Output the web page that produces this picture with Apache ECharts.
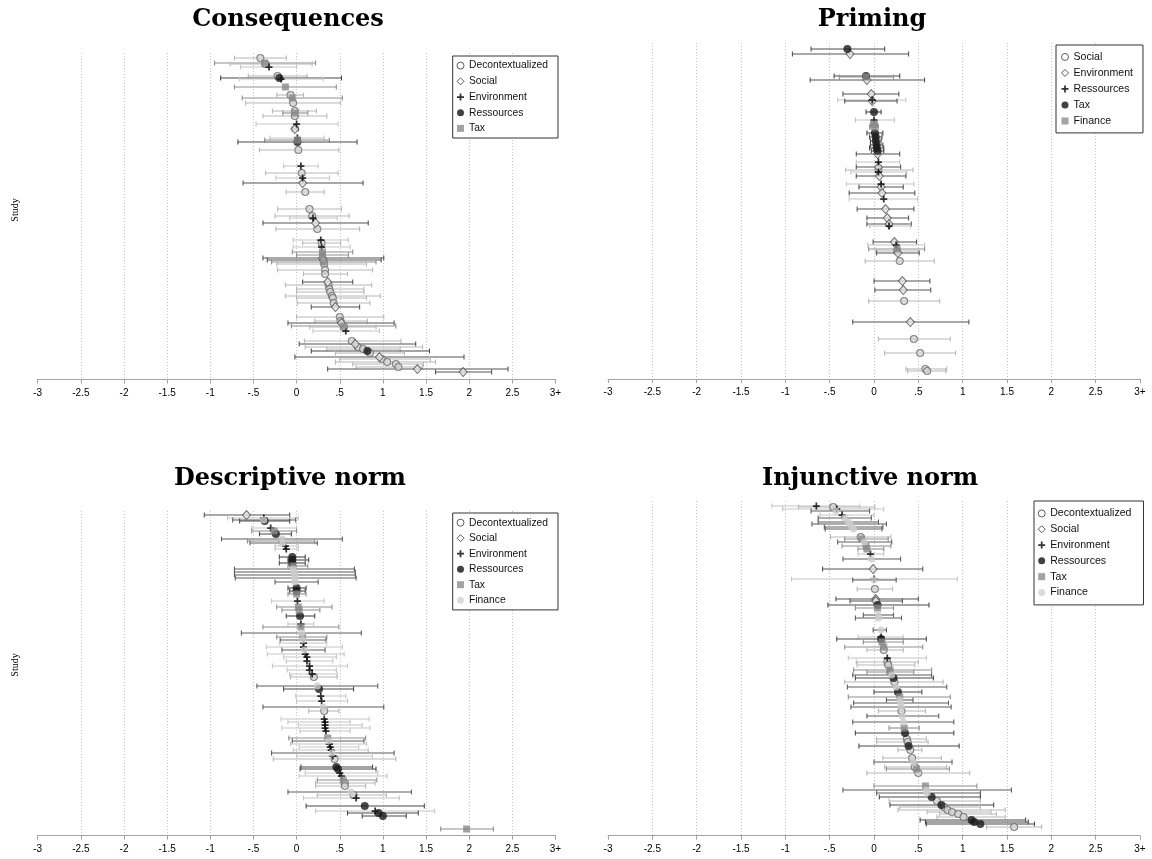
<!DOCTYPE html>
<html><head><meta charset="utf-8">
<script src="https://cdn.jsdelivr.net/npm/echarts@6/dist/echarts.min.js"></script>
<style>html,body{margin:0;padding:0;background:#fff}#c{width:1152px;height:859px}</style>
</head><body><div id="c"></div>
<script>
const xTicks = ['-3','-2.5','-2','-1.5','-1','-.5','0','.5','1','1.5','2','2.5','3+'];
const namesCons = ['Decontextualized','Social','Environment','Ressources','Tax'];
const namesPrim = ['Social','Environment','Ressources','Tax','Finance'];
const namesNorm = ['Decontextualized','Social','Environment','Ressources','Tax','Finance'];

// Consequences
const consPos = [58,63,64,67,76,78,79,87,95,98,103,111,113,116,124,129,138,140,142,150,166,173,178,183,192,209,216,218,223,229,240,243,247,252,255,258,260,262,264,270,274,282,285,289,292,296,298,303,307,317,321,323,326,327,331,341,344,347,349,351,353,357,359,362,364,367,369,372];
const consEst = [-0.42,-0.37,-0.36,-0.32,-0.22,-0.20,-0.18,-0.13,-0.07,-0.05,-0.04,-0.02,-0.02,-0.02,0.00,-0.02,0.01,0.01,0.01,0.02,0.05,0.06,0.07,0.07,0.10,0.15,0.18,0.19,0.22,0.24,0.28,0.29,0.29,0.30,0.30,0.30,0.31,0.31,0.32,0.33,0.33,0.36,0.37,0.38,0.39,0.41,0.42,0.43,0.45,0.50,0.51,0.52,0.54,0.55,0.57,0.64,0.68,0.71,0.77,0.82,0.85,0.96,0.99,1.05,1.15,1.18,1.40,1.93];
const consLo = [-0.72,-0.95,-0.77,-0.65,-0.56,-0.88,-0.66,-0.72,-0.23,-0.63,-0.59,-0.28,-0.16,-0.39,-0.47,-0.05,-0.31,-0.37,-0.68,-0.43,-0.15,-0.36,-0.24,-0.62,-0.12,-0.22,-0.25,-0.08,-0.39,-0.24,-0.04,0.07,-0.04,-0.05,0.00,-0.39,-0.34,-0.29,-0.23,-0.22,0.08,0.07,-0.13,0.00,0.00,-0.13,0.00,0.01,0.17,0.00,0.21,-0.10,-0.06,0.15,0.19,0.09,0.03,0.10,0.35,0.17,0.45,-0.02,0.50,0.45,0.65,0.69,0.36,1.61];
const consHi = [-0.12,0.22,0.18,0.00,0.12,0.52,0.31,0.46,0.08,0.53,0.51,0.23,0.13,0.35,0.48,0.02,0.32,0.38,0.70,0.49,0.25,0.48,0.38,0.77,0.32,0.52,0.61,0.47,0.83,0.73,0.60,0.51,0.62,0.65,0.60,1.01,0.98,0.92,0.81,0.88,0.59,0.65,0.87,0.78,0.78,0.97,0.81,0.85,0.73,1.01,0.82,1.13,1.15,0.92,0.96,1.21,1.38,1.46,1.20,1.54,1.25,1.94,1.55,1.61,1.47,1.46,2.45,2.26];
const consGrp = [0,4,0,2,0,3,2,4,0,4,0,0,4,0,2,1,2,4,3,0,2,0,2,1,0,0,0,2,1,0,2,0,2,4,4,1,1,4,0,0,0,1,0,0,0,0,0,0,1,0,0,1,4,0,2,0,1,0,0,3,0,1,0,0,0,0,1,1];

// Priming
const primPos = [49,54,76,77,80,94,100,101,112,120,124,127,133,137,141,145,148,151,154,162,167,170,172,176,184,187,193,199,209,218,224,226,242,245,249,251,253,261,281,290,301,322,339,353,369,371];
const primEst = [-0.30,-0.27,-0.09,-0.09,-0.08,-0.03,-0.02,-0.02,0.00,0.00,0.00,0.00,0.01,0.02,0.02,0.03,0.03,0.04,0.04,0.05,0.05,0.05,0.05,0.06,0.08,0.08,0.09,0.11,0.13,0.15,0.17,0.17,0.23,0.25,0.26,0.26,0.27,0.29,0.32,0.33,0.34,0.41,0.45,0.52,0.58,0.60];
const primLo = [-0.71,-0.92,-0.45,-0.39,-0.72,-0.35,-0.41,-0.33,-0.09,-0.21,-0.04,-0.05,-0.08,-0.05,-0.04,-0.04,-0.05,-0.03,-0.20,-0.20,-0.20,-0.32,-0.26,-0.20,-0.31,-0.17,-0.28,-0.28,-0.19,-0.08,-0.08,-0.05,-0.01,-0.07,-0.06,0.02,0.03,-0.10,0.00,0.01,-0.06,-0.24,0.05,0.12,0.36,0.38];
const primHi = [0.12,0.39,0.29,0.22,0.57,0.28,0.36,0.26,0.08,0.23,0.04,0.05,0.10,0.09,0.08,0.10,0.11,0.11,0.29,0.29,0.30,0.44,0.37,0.36,0.45,0.33,0.46,0.49,0.45,0.39,0.42,0.41,0.48,0.57,0.57,0.50,0.51,0.68,0.63,0.64,0.74,1.07,0.86,0.92,0.82,0.81];
const primGrp = [3,1,3,4,1,1,2,1,3,2,4,4,3,3,3,3,3,3,1,2,1,0,2,1,2,1,1,2,1,1,1,2,1,2,4,0,1,0,1,1,0,1,0,0,0,0];

// Descriptive norm
const descPos = [515,518,520,521,528,531,534,539,541,543,546,549,557,560,563,566,569,572,575,578,582,588,591,594,601,607,610,616,624,627,633,637,640,643,647,650,654,657,661,666,670,674,677,686,689,696,701,707,711,719,722,725,728,731,738,741,744,747,750,753,756,759,767,769,773,776,780,783,786,792,795,798,806,811,813,816,829];
const descEst = [-0.58,-0.38,-0.38,-0.37,-0.30,-0.26,-0.24,-0.17,-0.17,-0.16,-0.13,-0.12,-0.05,-0.05,-0.05,-0.04,-0.04,-0.03,-0.02,-0.02,-0.02,0.00,0.00,0.00,0.01,0.02,0.03,0.04,0.05,0.05,0.06,0.07,0.07,0.08,0.08,0.09,0.10,0.12,0.12,0.15,0.15,0.18,0.20,0.24,0.26,0.28,0.29,0.31,0.32,0.32,0.33,0.33,0.33,0.34,0.36,0.37,0.38,0.39,0.40,0.41,0.42,0.44,0.46,0.48,0.50,0.52,0.54,0.56,0.56,0.63,0.66,0.69,0.79,0.91,0.95,1.00,1.97];
const descLo = [-1.07,-0.80,-0.74,-0.66,-0.52,-0.52,-0.43,-0.87,-0.57,-0.54,-0.25,-0.25,-0.20,-0.10,-0.20,-0.10,-0.72,-0.72,-0.72,-0.71,-0.25,-0.10,-0.08,-0.10,-0.29,-0.23,-0.17,-0.12,-0.10,-0.39,-0.64,-0.23,-0.19,-0.20,-0.35,-0.17,-0.34,-0.15,-0.12,-0.28,-0.11,-0.08,-0.07,-0.46,-0.15,-0.01,0.00,-0.39,0.14,-0.18,-0.10,0.02,-0.17,0.04,-0.09,-0.05,-0.07,0.03,-0.04,-0.29,0.00,-0.27,0.05,0.04,0.10,0.03,0.24,0.22,0.22,-0.10,0.24,0.08,0.11,0.22,0.59,0.76,1.67];
const descHi = [-0.08,0.02,-0.01,-0.08,0.00,0.00,-0.06,0.53,0.21,0.24,0.02,0.02,0.10,0.14,0.10,0.13,0.67,0.68,0.68,0.69,0.25,0.11,0.10,0.11,0.32,0.41,0.27,0.21,0.20,0.49,0.75,0.35,0.34,0.35,0.53,0.33,0.55,0.46,0.42,0.59,0.46,0.47,0.47,0.94,0.66,0.57,0.59,1.01,0.49,0.84,0.62,0.76,0.85,0.62,0.80,0.78,0.81,0.72,0.83,1.13,0.88,1.15,0.88,0.92,0.94,1.05,0.93,0.91,0.80,1.33,1.04,1.19,1.48,1.60,1.41,1.27,2.28];
const descGrp = [1,2,5,3,2,4,3,5,4,5,2,2,3,3,3,4,5,5,5,5,5,3,3,4,2,4,4,3,2,4,5,4,5,2,2,5,2,2,2,2,2,2,0,5,3,2,2,5,0,2,2,2,2,2,4,5,2,2,2,5,2,0,3,3,2,2,4,0,0,5,0,2,3,2,3,3,4];

// Injunctive norm
const injPos = [506,507,509,511,515,518,522,524,527,529,537,539,542,546,549,554,559,569,579,580,589,599,601,605,608,615,618,630,637,639,642,647,650,658,662,665,670,672,675,678,682,687,692,697,700,703,707,711,716,722,728,733,739,742,746,750,758,762,767,769,773,786,790,793,797,801,805,807,810,812,814,817,820,822,824,827];
const injEst = [-0.65,-0.46,-0.42,-0.43,-0.36,-0.33,-0.29,-0.27,-0.25,-0.23,-0.15,-0.14,-0.11,-0.09,-0.08,-0.04,-0.03,-0.01,0.00,0.00,0.01,0.02,0.02,0.04,0.04,0.05,0.05,0.08,0.08,0.08,0.09,0.11,0.11,0.15,0.15,0.16,0.18,0.18,0.20,0.22,0.23,0.25,0.27,0.29,0.29,0.30,0.31,0.31,0.32,0.33,0.34,0.35,0.37,0.38,0.39,0.41,0.43,0.44,0.46,0.48,0.50,0.58,0.59,0.60,0.65,0.71,0.76,0.79,0.83,0.88,0.95,1.01,1.10,1.13,1.20,1.58];
const injLo = [-1.15,-0.85,-1.03,-0.71,-0.61,-0.63,-0.63,-0.70,-0.56,-0.55,-0.49,-0.33,-0.41,-0.36,-0.18,-0.18,-0.35,-0.58,-0.93,-0.24,-0.19,-0.43,-0.27,-0.52,-0.21,-0.12,-0.21,-0.01,-0.18,-0.42,-0.12,-0.33,-0.08,-0.29,-0.20,-0.19,-0.23,-0.08,-0.24,-0.21,-0.33,-0.30,0.00,-0.29,0.14,-0.23,-0.26,0.05,-0.08,-0.24,0.17,-0.21,0.03,0.03,-0.17,0.27,0.10,0.00,0.12,0.14,-0.08,0.00,-0.35,0.03,0.06,0.17,0.18,0.29,0.27,0.60,0.74,0.71,0.52,0.58,0.59,1.27];
const injHi = [-0.16,0.01,0.11,-0.05,0.00,-0.03,0.05,0.14,0.10,0.09,0.19,0.16,0.20,0.19,0.11,0.11,0.30,0.55,0.94,0.25,0.21,0.50,0.32,0.62,0.22,0.22,0.31,0.14,0.33,0.59,0.33,0.55,0.33,0.59,0.50,0.46,0.65,0.45,0.65,0.67,0.78,0.82,0.54,0.86,0.44,0.84,0.87,0.58,0.73,0.90,0.51,0.90,0.59,0.61,0.96,0.54,0.76,0.88,0.82,0.85,1.08,1.16,1.55,1.20,1.20,1.20,1.35,1.20,1.48,1.32,1.38,1.48,1.71,1.74,1.81,1.89];
const injGrp = [2,0,2,5,2,5,5,5,5,5,0,4,5,4,4,2,5,1,2,5,0,1,1,3,4,5,5,5,2,3,4,4,0,2,0,0,4,4,5,3,0,5,3,4,5,5,5,0,5,5,4,3,0,0,3,0,0,5,0,4,0,4,5,5,3,0,3,0,0,0,0,0,3,3,3,0];

// ---- styles ----
const PLUS = 'path://M3,0H5V3H8V5H5V8H3V5H0V3H3Z';
const barColors = ['#b8b8b8','#555555','#c6c6c6','#4a4a4a','#8f8f8f','#5e5e5e'];
const markStyles = [
  {symbol:'circle', size:7, itemStyle:{color:'#d4d4d4', borderColor:'#6e6e6e', borderWidth:1.1}},
  {symbol:'diamond', size:[8,9], itemStyle:{color:'#e2e2e2', borderColor:'#4e4e4e', borderWidth:1}},
  {symbol:PLUS, size:7, itemStyle:{color:'#000'}},
  {symbol:'circle', size:8, itemStyle:{color:'#1a1a1a'}},
  {symbol:'rect', size:7, itemStyle:{color:'#8a8a8a'}},
  {symbol:'circle', size:7, itemStyle:{color:'#cdcdcd'}}
];
const legendIcons = [
  {icon:'circle', itemStyle:{color:'#fff', borderColor:'#333', borderWidth:1}},
  {icon:'diamond', itemStyle:{color:'#fff', borderColor:'#333', borderWidth:1}},
  {icon:PLUS, itemStyle:{color:'#000', borderWidth:0}},
  {icon:'circle', itemStyle:{color:'#111', borderWidth:0}},
  {icon:'rect', itemStyle:{color:'#8c8c8c', borderWidth:0}},
  {icon:'circle', itemStyle:{color:'#d2d2d2', borderWidth:0}}
];

const panels = [
  {key:'a', title:'Consequences', names:namesCons, pos:consPos, est:consEst, lo:consLo, hi:consHi, grp:consGrp,
   grid:{left:37.7, width:517.8, top:53, height:326.5}, titleX:288, titleY:20, study:210,
   legend:{left:452.7, top:56, padding:[3.6,10,3.6,3.8], fontSize:10.3, lineHeight:12, itemGap:3.7}},
  {key:'b', title:'Priming', names:namesPrim, pos:primPos, est:primEst, lo:primLo, hi:primHi, grp:primGrp,
   grid:{left:608, width:532, top:43, height:336}, titleX:872, titleY:20, study:null,
   legend:{left:1056, top:45, padding:[5.8,10,5.8,5], fontSize:10.6, lineHeight:12.3, itemGap:3.7}},
  {key:'c', title:'Descriptive norm', names:namesNorm, pos:descPos, est:descEst, lo:descLo, hi:descHi, grp:descGrp,
   grid:{left:37.7, width:517.8, top:511, height:324.7}, titleX:290, titleY:479, study:665,
   legend:{left:452.7, top:513, padding:[3.7,10,3.7,3.8], fontSize:10.3, lineHeight:12, itemGap:3.5}},
  {key:'d', title:'Injunctive norm', names:namesNorm, pos:injPos, est:injEst, lo:injLo, hi:injHi, grp:injGrp,
   grid:{left:608, width:532, top:501, height:334.7}, titleX:870, titleY:479, study:null,
   legend:{left:1034, top:501, padding:[6.3,12,6.3,3.7], fontSize:10.6, lineHeight:12.3, itemGap:3.5}}
];

const option = {animation:false, grid:[], xAxis:[], yAxis:[], series:[], legend:[], graphic:[]};

panels.forEach((p, idx) => {
  option.grid.push(Object.assign({containLabel:false}, p.grid));
  option.xAxis.push({
    gridIndex:idx, type:'value', min:-3, max:3, interval:0.5,
    axisLine:{show:true, onZero:false, lineStyle:{color:'#a3a3a3', width:1}},
    axisTick:{show:true, length:4, lineStyle:{color:'#a3a3a3', width:1}},
    axisLabel:{color:'#000', fontSize:10, margin:8.5, fontFamily:'Liberation Sans, Arial, sans-serif',
      formatter:(v)=>xTicks[Math.round((v+3)*2)]},
    splitLine:{show:true, showMinLine:false, showMaxLine:false, lineStyle:{type:[1,2], color:'#c4c4c4', width:1}}
  });
  option.yAxis.push({gridIndex:idx, type:'value', inverse:true,
    min:p.grid.top, max:p.grid.top + p.grid.height, show:false});

  const barData = p.pos.map((y,i)=>[p.lo[i], p.hi[i], y, p.grp[i]]);
  option.series.push({
    type:'custom', xAxisIndex:idx, yAxisIndex:idx, data:barData, silent:true, z:1,
    encode:{x:[0,1], y:2},
    renderItem:(params, api)=>{
      const a = api.coord([api.value(0), api.value(2)]);
      const b = api.coord([api.value(1), api.value(2)]);
      const col = barColors[api.value(3)];
      const h = 2.4;
      const st = {stroke:col, lineWidth:1.1, fill:null};
      return {type:'group', children:[
        {type:'line', shape:{x1:a[0], y1:a[1], x2:b[0], y2:b[1]}, style:st},
        {type:'line', shape:{x1:a[0], y1:a[1]-h, x2:a[0], y2:a[1]+h}, style:st},
        {type:'line', shape:{x1:b[0], y1:b[1]-h, x2:b[0], y2:b[1]+h}, style:st}
      ]};
    }
  });
  p.names.forEach((nm, g)=>{
    const ms = markStyles[g];
    const d = [];
    p.pos.forEach((y,i)=>{ if (p.grp[i]===g) d.push([p.est[i], y]); });
    option.series.push({
      type:'scatter', name:p.key+'|'+nm, xAxisIndex:idx, yAxisIndex:idx, data:d, z:2,
      symbol:ms.symbol, symbolSize:ms.size, itemStyle:ms.itemStyle, silent:true
    });
  });
  const L = p.legend;
  option.legend.push({
    orient:'vertical', left:L.left, top:L.top, padding:L.padding, itemGap:L.itemGap,
    itemWidth:7, itemHeight:7, selectedMode:false,
    borderColor:'#333', borderWidth:1, backgroundColor:'#fff',
    textStyle:{fontSize:L.fontSize, lineHeight:L.lineHeight, color:'#111', fontFamily:'Liberation Sans, Arial, sans-serif', padding:[0,0,0,0]},
    formatter:(n)=>n.split('|')[1],
    data:p.names.map((nm,g)=>Object.assign({name:p.key+'|'+nm}, legendIcons[g]))
  });
  option.graphic.push({type:'text', x:p.titleX, y:p.titleY, silent:true,
    style:{text:p.title, fill:'#000', font:'bold 24px "DejaVu Serif", serif', textAlign:'center', textVerticalAlign:'middle'}});
  if (p.study !== null) {
    option.graphic.push({type:'text', x:15, y:p.study, rotation:Math.PI/2, silent:true,
      style:{text:'Study', fill:'#000', font:'10px "Liberation Serif", serif', textAlign:'center', textVerticalAlign:'middle'}});
  }
});

const chart = echarts.init(document.getElementById('c'), null, {renderer:'canvas'});
chart.setOption(option);
</script>
</body></html>
